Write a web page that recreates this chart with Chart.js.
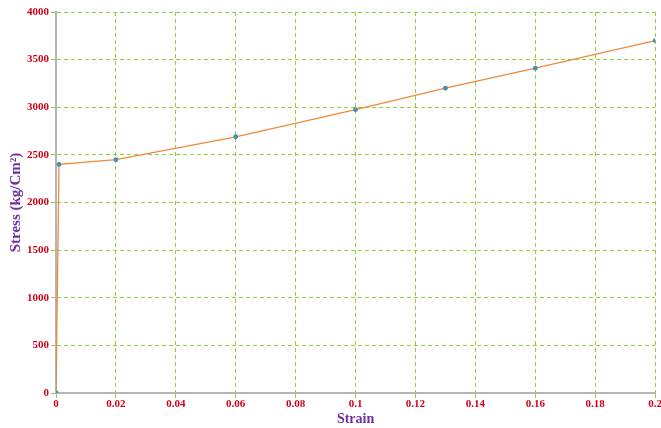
<!DOCTYPE html>
<html>
<head>
<meta charset="utf-8">
<script src="https://cdn.jsdelivr.net/npm/chart.js@4"></script>
<style>
  html, body { margin: 0; padding: 0; background: #fff; overflow: hidden; }
  #wrap { width: 662px; height: 428px; }
</style>
</head>
<body>
<div id="wrap"><canvas id="stressChart"></canvas></div>
<script>
// Stress-strain data
const strain = [0, 0.001, 0.02, 0.06, 0.1, 0.13, 0.16, 0.2];
const stress = [0, 2400, 2450, 2690, 2975, 3200, 3410, 3700];
const xTicks = [0, 0.02, 0.04, 0.06, 0.08, 0.1, 0.12, 0.14, 0.16, 0.18, 0.2];
const yTicks = [0, 500, 1000, 1500, 2000, 2500, 3000, 3500, 4000];

const gridColor = '#94d03a';
const labelColor = '#d0021b';
const titleColor = '#7030a0';

const ctx = document.getElementById('stressChart').getContext('2d');
new Chart(ctx, {
    type: 'scatter',
    data: {
        datasets: [{
            data: strain.map((s, i) => ({ x: s, y: stress[i] })),
            showLine: true,
            borderColor: '#ee8a3a',
            borderWidth: 1.3,
            pointRadius: 1.8,
            pointBackgroundColor: '#4a8fae',
            pointBorderColor: '#4a8fae',
            tension: 0
        }]
    },
    options: {
        responsive: true,
        maintainAspectRatio: false,
        animation: false,
        layout: { padding: { top: 12, left: 4, right: 0, bottom: 0 } },
        plugins: {
            legend: { display: false },
            tooltip: { enabled: false }
        },
        scales: {
            x: {
                type: 'linear',
                min: 0,
                max: 0.2,
                afterBuildTicks: axis => { axis.ticks = xTicks.map(v => ({ value: v })); },
                ticks: {
                    color: labelColor,
                    font: { family: 'Liberation Serif', size: 11, weight: 'bold' },
                    maxRotation: 0,
                    padding: 0,
                    callback: v => String(v)
                },
                grid: {
                    color: gridColor,
                    tickLength: 5
                },
                border: { color: '#b5b5b5', width: 2, dash: [4, 3] },
                title: {
                    display: true,
                    text: 'Strain',
                    color: titleColor,
                    font: { family: 'Liberation Serif', size: 14, weight: 'bold' },
                    padding: { top: 0, bottom: 0 }
                }
            },
            y: {
                min: 0,
                max: 4000,
                afterBuildTicks: axis => { axis.ticks = yTicks.map(v => ({ value: v })); },
                ticks: {
                    color: labelColor,
                    font: { family: 'Liberation Serif', size: 11, weight: 'bold' },
                    padding: 2,
                    callback: v => String(v)
                },
                grid: {
                    color: gridColor,
                    tickLength: 5
                },
                border: { color: '#b5b5b5', width: 2, dash: [4, 3] },
                title: {
                    display: true,
                    text: 'Stress (kg/Cm²)',
                    color: titleColor,
                    font: { family: 'Liberation Serif', size: 15, weight: 'bold' },
                    padding: { top: 3, bottom: 0 }
                }
            }
        }
    }
});
</script>
</body>
</html>
